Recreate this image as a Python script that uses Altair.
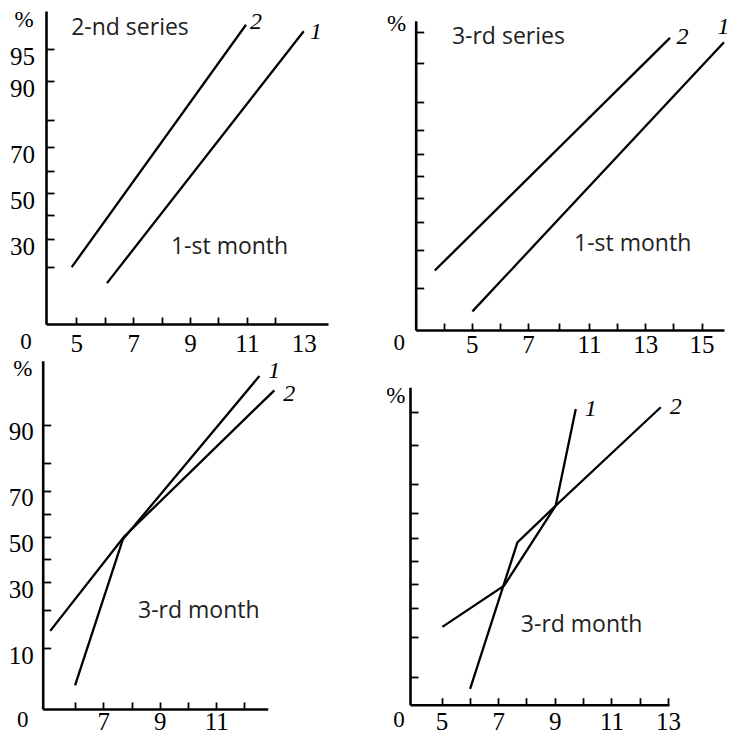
import altair as alt
import pandas as pd
from statistics import NormalDist

_nd = NormalDist()


def probit(p):
    return _nd.inv_cdf(p / 100.0)


# ---------------- data (x = parameter, p = cumulative %) ----------------
# Panel A: 2-nd series, 1-st month
a_x1 = [6.08, 13.0]
a_p1 = [15.2, 96.8]
a_x2 = [4.84, 10.97]
a_p2 = [19.9, 97.3]
# Panel B: 3-rd series, 1-st month
b_x1 = [5.02, 15.8]
b_p1 = [6.1, 93.6]
b_x2 = [3.68, 13.88]
b_p2 = [14.0, 94.2]
# Panel C: 3-rd month (left)
c_x1 = [6.0, 7.69, 12.53]
c_p1 = [4.4, 48.6, 96.7]
c_x2 = [5.12, 7.74, 13.06]
c_p2 = [14.0, 50.0, 95.3]
# Panel D: 3-rd month (right)
d_x1 = [6.01, 7.68, 9.03, 9.74]
d_p1 = [7.8, 58.0, 72.8, 95.3]
d_x2 = [5.03, 7.21, 9.03, 12.74]
d_p2 = [23.2, 39.1, 72.8, 95.5]

# tick / label values
a_xticks = [5, 6, 7, 8, 9, 10, 11, 12]
a_xlabels = [5, 7, 9, 11, 13]
a_yticks = [95, 90, 80, 70, 60, 50, 40, 30, 20]
a_ylabels = [95, 90, 70, 50, 30]

b_xticks = [4, 5, 6, 7, 9, 11, 12, 13, 14, 15]
b_xlabels = [5, 7, 11, 13, 15]
b_yticks = [95, 90, 80, 70, 60, 50, 40, 30, 20, 10]
b_ylabels = []

c_xticks = [6, 7, 8, 9, 10, 11, 12]
c_xlabels = [7, 9, 11]
c_yticks = [90, 80, 70, 60, 50, 40, 30, 20, 10]
c_ylabels = [90, 70, 50, 30, 10]

d_xticks = [5, 6, 7, 8, 9, 10, 11, 12, 13]
d_xlabels = [5, 7, 9, 11, 13]
d_yticks = [95, 90, 80, 70, 60, 50, 40, 30, 20, 10]
d_ylabels = []

# annotation texts: (text, x, p)
a_nums = [("2", 11.32, 97.5), ("1", 13.43, 96.7)]
a_caps = [("2-nd series", 4.82, 97.06), ("1-st month", 8.33, 26.9)]
a_misc = [("%", 3.16, 97.6), ("0", 3.23, 4.41)]

b_nums = [("2", 14.32, 94.3), ("1", 15.78, 95.5)]
b_caps = [("3-rd series", 4.29, 94.28), ("1-st month", 10.02, 21.8)]
b_misc = [("%", 2.32, 95.83), ("0", 2.41, 2.83)]

c_nums = [("1", 13.06, 97.1), ("2", 13.59, 94.87)]
c_caps = [("3-rd month", 8.23, 19.8)]
c_misc = [("%", 4.15, 97.25), ("0", 4.15, 1.76)]

d_nums = [("1", 10.27, 95.3), ("2", 13.27, 95.5)]
d_caps = [("3-rd month", 7.80, 23.9)]
d_misc = [("%", 3.39, 96.6), ("0", 3.50, 3.87)]

W, H = 325, 349
SERIF = "Liberation Serif"
SANS = "Open Sans"

panels = [
    dict(x1=a_x1, p1=a_p1, x2=a_x2, p2=a_p2, xticks=a_xticks, xlabels=a_xlabels,
         yticks=a_yticks, ylabels=a_ylabels, nums=a_nums, caps=a_caps, misc=a_misc,
         xdom=[3.935, 13.854], xrange=[5, 287], pmin=6.74, pmax=98.14,
         yrange=[316, 3], xlp=7, ylp=11.5),
    dict(x1=b_x1, p1=b_p1, x2=b_x2, p2=b_p2, xticks=b_xticks, xlabels=b_xlabels,
         yticks=b_yticks, ylabels=b_ylabels, nums=b_nums, caps=b_caps, misc=b_misc,
         xdom=[3, 7, 11, 15.8], xrange=[11.7, 124, 185, 320], pmin=3.93, pmax=96.15,
         yrange=[322, 12.7], xlp=2, ylp=11),
    dict(x1=c_x1, p1=c_p1, x2=c_x2, p2=c_p2, xticks=c_xticks, xlabels=c_xlabels,
         yticks=c_yticks, ylabels=c_ylabels, nums=c_nums, caps=c_caps, misc=c_misc,
         xdom=[4.853, 12.824], xrange=[1.7, 226.7], pmin=2.41, pmax=97.80,
         yrange=[350, 1.7], xlp=0, ylp=9.5),
    dict(x1=d_x1, p1=d_p1, x2=d_x2, p2=d_p2, xticks=d_xticks, xlabels=d_xlabels,
         yticks=d_yticks, ylabels=d_ylabels, nums=d_nums, caps=d_caps, misc=d_misc,
         xdom=[3.8875, 13.031], xrange=[6, 265], pmin=5.56, pmax=97.23,
         yrange=[345.7, 28.3], xlp=4.5, ylp=11),
]

ZCALC = "quantileNormal(datum.p / 100)"


def text_df(items):
    return pd.DataFrame({"t": [i[0] for i in items],
                         "x": [i[1] for i in items],
                         "p": [i[2] for i in items]})


def make_panel(s):
    lines = pd.DataFrame({
        "x": s["x1"] + s["x2"],
        "p": s["p1"] + s["p2"],
        "s": ["1"] * len(s["x1"]) + ["2"] * len(s["x2"]),
    })
    xs = alt.Scale(domain=s["xdom"], range=s["xrange"], nice=False, zero=False)
    ys = alt.Scale(domain=[probit(s["pmin"]), probit(s["pmax"])], range=s["yrange"],
                   nice=False, zero=False)

    has_ylab = len(s["ylabels"]) > 0
    x_lab_axis = alt.Axis(orient="bottom", offset=-(H - s["yrange"][0]),
                          values=s["xlabels"],
                          ticks=False, domain=True, domainColor="black", domainWidth=2.6,
                          labelFont=SERIF, labelFontSize=25, labelColor="black",
                          labelPadding=s["xlp"], labelFlush=False, labelOverlap=False,
                          labelBound=False, grid=False, title=None)
    y_lab_axis = alt.Axis(orient="left", offset=-s["xrange"][0],
                          values=[probit(v) for v in s["ylabels"]] if has_ylab else [0],
                          labels=has_ylab,
                          labelExpr="round(cumulativeNormal(datum.value) * 100)",
                          ticks=False, domain=True, domainColor="black", domainWidth=2.6,
                          labelFont=SERIF, labelFontSize=25, labelColor="black",
                          labelPadding=s["ylp"], labelOffset=7, labelFlush=False,
                          labelOverlap=False, labelBound=False, grid=False, title=None)
    x_tick_axis = alt.Axis(orient="top", offset=-(s["yrange"][0]), values=s["xticks"],
                           labels=False, domain=False, ticks=True, tickSize=7,
                           tickWidth=1.8, tickColor="black", grid=False, title=None)
    y_tick_axis = alt.Axis(orient="right", offset=-(W - s["xrange"][0]),
                           values=[probit(v) for v in s["yticks"]],
                           labels=False, domain=False, ticks=True, tickSize=8,
                           tickWidth=1.8, tickColor="black", grid=False, title=None)

    line_layer = alt.Chart(lines).transform_calculate(z=ZCALC).mark_line(
        color="black", strokeWidth=2.3
    ).encode(
        x=alt.X("x:Q", scale=xs, axis=x_lab_axis),
        y=alt.Y("z:Q", scale=ys, axis=y_lab_axis),
        detail="s:N",
    )
    num_layer = alt.Chart(text_df(s["nums"])).transform_calculate(z=ZCALC).mark_text(
        font=SERIF, fontStyle="italic", fontSize=24, color="black",
        align="center", baseline="middle"
    ).encode(
        x=alt.X("x:Q", scale=xs, axis=x_tick_axis),
        y=alt.Y("z:Q", scale=ys, axis=y_tick_axis),
        text="t:N",
    )
    cap_layer = alt.Chart(text_df(s["caps"])).transform_calculate(z=ZCALC).mark_text(
        font=SANS, fontSize=23, color="#222222", align="left", baseline="middle"
    ).encode(
        x=alt.X("x:Q", scale=xs, axis=None),
        y=alt.Y("z:Q", scale=ys, axis=None),
        text="t:N",
    )
    misc_layer = alt.Chart(text_df(s["misc"])).transform_calculate(z=ZCALC).mark_text(
        font=SERIF, fontSize=23, color="black", align="center", baseline="middle"
    ).encode(
        x=alt.X("x:Q", scale=xs, axis=None),
        y=alt.Y("z:Q", scale=ys, axis=None),
        text="t:N",
    )
    return alt.layer(line_layer, num_layer, cap_layer, misc_layer).resolve_axis(
        x="independent", y="independent"
    ).properties(width=W, height=H)


chart = alt.concat(
    *[make_panel(s) for s in panels],
    columns=2,
    spacing=alt.RowColnumber(row=2, column=38),
    bounds="flush",
).properties(
    padding={"left": 0, "top": 0, "right": 0, "bottom": 0},
    background="white",
).configure_view(strokeWidth=0)

chart.save("out.html", embed_options={"renderer": "svg", "actions": False})
